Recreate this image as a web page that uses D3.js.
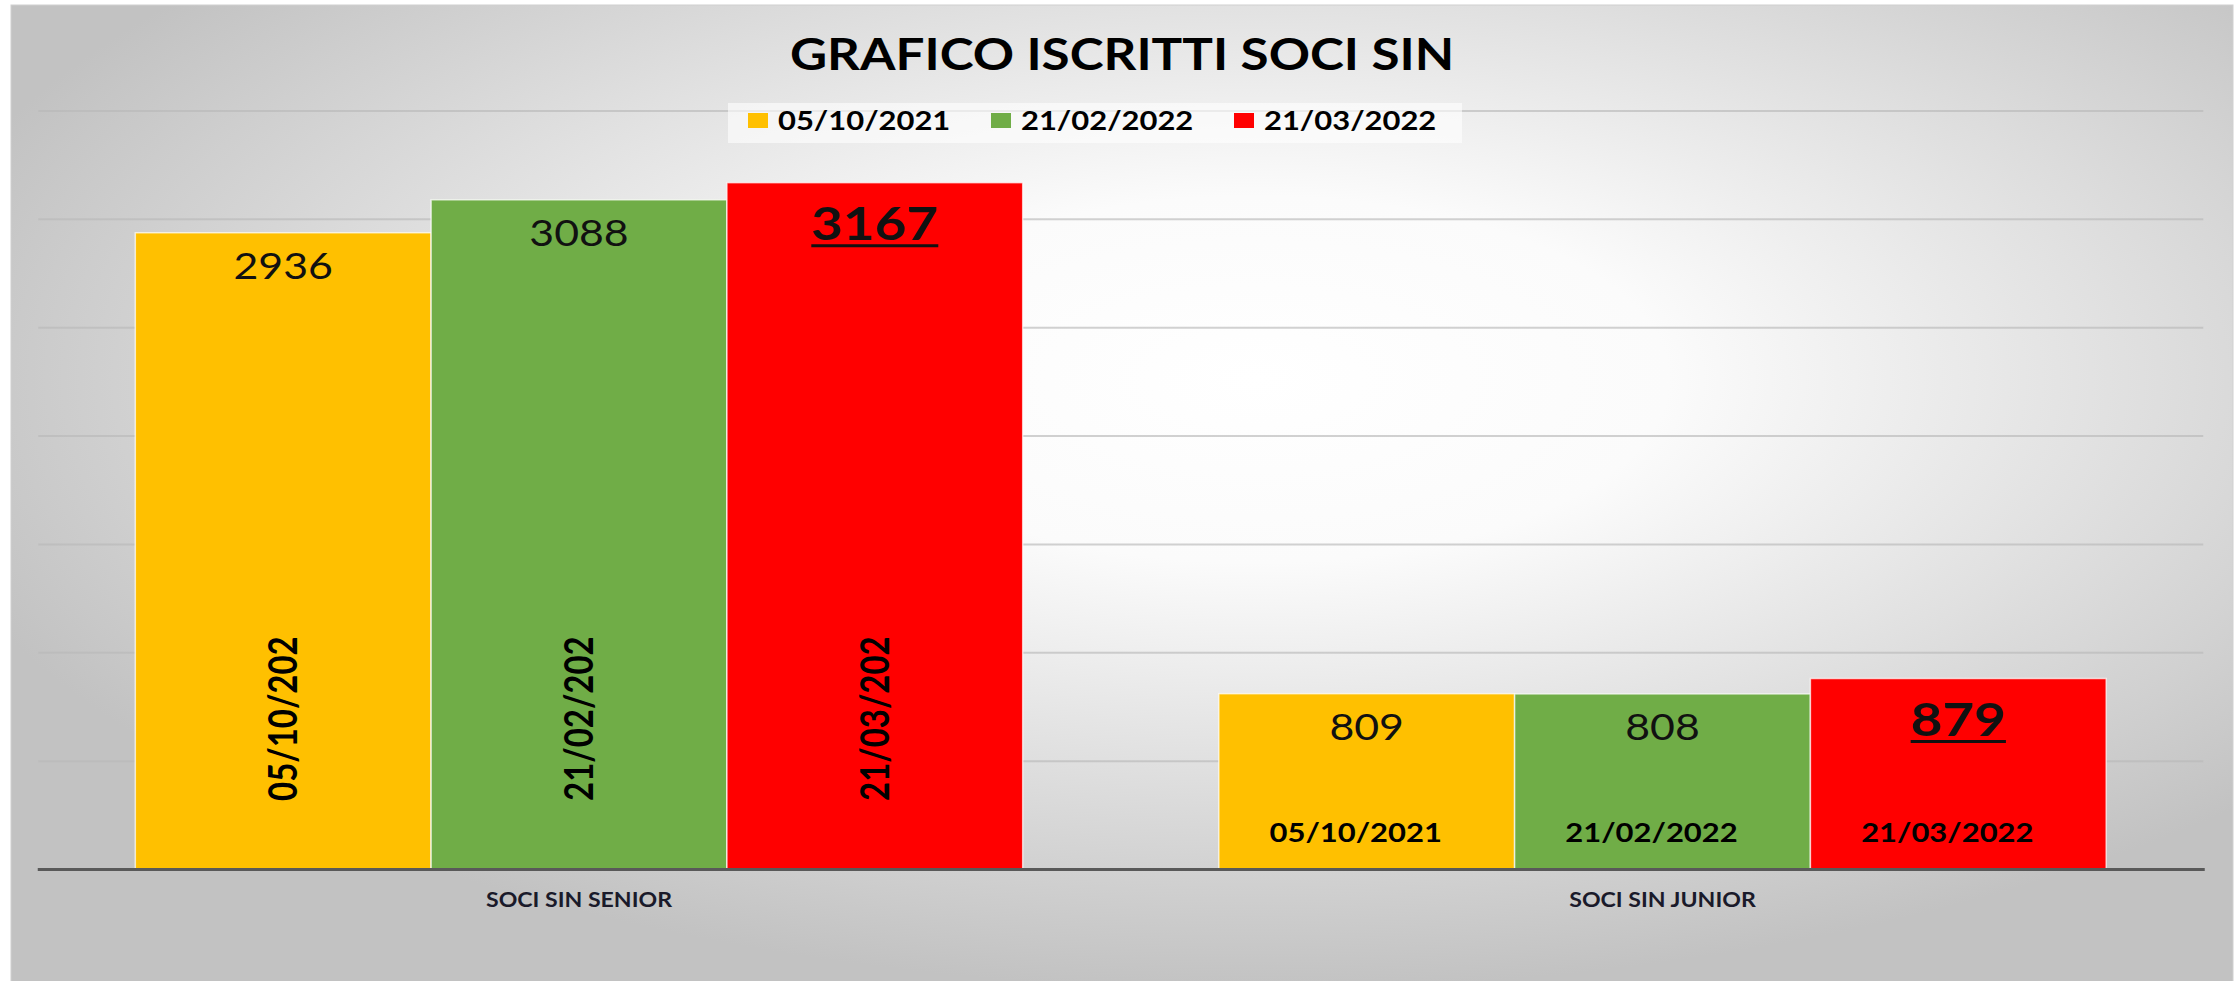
<!DOCTYPE html>
<html>
<head>
<meta charset="utf-8">
<script src="https://cdn.jsdelivr.net/npm/d3@7"></script>
<style>
  body { margin: 0; background: #fff; }
  svg { display: block; font-family: Lato, "Open Sans", sans-serif; }
</style>
</head>
<body>
<div id="chart"></div>
<script>
var categories = ["SOCI SIN SENIOR", "SOCI SIN JUNIOR"];
var seriesNames = ["05/10/2021", "21/02/2022", "21/03/2022"];
var iscritti_05_10_2021 = [2936, 809];
var iscritti_21_02_2022 = [3088, 808];
var iscritti_21_03_2022 = [3167, 879];
var yTicks = [500, 1000, 1500, 2000, 2500, 3000, 3500];

function init() {
    var w = 2237;
    var h = 981;
    var SX = 1.19; // the original picture is a bit stretched sideways
    var colors = ["#FFC000", "#70AD47", "#FF0000"];
    var seriesValues = [iscritti_05_10_2021, iscritti_21_02_2022, iscritti_21_03_2022];
    var x0 = 37.25, x1 = 2204.25, yBase = 869, yTop = 110.5;

    var svg = d3.select("#chart")
                .append("svg")
                .attr("width", w)
                .attr("height", h);

    var grad = svg.append("defs").append("radialGradient")
                  .attr("id", "bg")
                  .attr("cx", 0.56).attr("cy", 0.38).attr("r", 0.62);
    grad.append("stop").attr("offset", 0).attr("stop-color", "#ffffff");
    grad.append("stop").attr("offset", 0.3).attr("stop-color", "#fbfbfb");
    grad.append("stop").attr("offset", 1).attr("stop-color", "#c2c2c2");

    svg.append("rect")
       .attr("x", 11).attr("y", 5)
       .attr("width", 2222).attr("height", 985)
       .attr("fill", "url(#bg)")
       .attr("stroke", "#d0d0d0");

    var x = d3.scaleBand()
              .domain(categories)
              .range([x0, x1])
              .paddingInner(0.181)
              .paddingOuter(0.0905);
    var xs = d3.scaleBand()
               .domain(seriesNames)
               .range([0, x.bandwidth()]);
    var y = d3.scaleLinear()
              .domain([0, 3500])
              .range([yBase, yTop]);

    // gridlines
    var grid = svg.append("g")
                  .attr("transform", "translate(" + (x0 + 1) + ",0)")
                  .call(d3.axisLeft(y).tickValues(yTicks).tickSize(-(x1 - x0 - 2)).tickFormat(""));
    grid.select(".domain").remove();
    grid.selectAll("line").attr("stroke", "#b8b8b8").attr("stroke-opacity", 0.65).attr("stroke-width", 2);

    // title
    svg.append("text")
       .attr("transform", "translate(1122,70) scale(" + SX + ",1)")
       .attr("text-anchor", "middle")
       .attr("font-size", 43)
       .attr("font-weight", "bold")
       .attr("fill", "#000")
       .text("GRAFICO ISCRITTI SOCI SIN");

    // legend
    svg.append("rect")
       .attr("x", 728).attr("y", 103)
       .attr("width", 734).attr("height", 40)
       .attr("fill", "#fff").attr("fill-opacity", 0.6);
    var leg = svg.selectAll("g.leg")
                 .data(seriesNames)
                 .enter()
                 .append("g")
                 .attr("class", "leg")
                 .attr("transform", function(d, i) { return "translate(" + (748 + i * 243) + ",0)"; });
    leg.append("rect")
       .attr("x", 0).attr("y", 113)
       .attr("width", 20).attr("height", 15)
       .attr("fill", function(d, i) { return colors[i]; });
    leg.append("text")
       .attr("transform", "translate(30,130) scale(" + SX + ",1)")
       .attr("font-size", 26)
       .attr("font-weight", "bold")
       .text(function(d) { return d; });

    // bars
    var groups = svg.selectAll("g.cat")
                    .data(categories)
                    .enter()
                    .append("g")
                    .attr("class", "cat")
                    .attr("transform", function(d) { return "translate(" + x(d) + ",0)"; });

    var bars = groups.selectAll("g.bar")
                     .data(function(c, j) {
                         return seriesNames.map(function(s, i) {
                             return { cat: j, serie: i, name: s, value: seriesValues[i][j] };
                         });
                     })
                     .enter()
                     .append("g")
                     .attr("class", "bar");

    bars.append("rect")
        .attr("x", function(d) { return xs(d.name); })
        .attr("y", function(d) { return y(d.value); })
        .attr("width", xs.bandwidth())
        .attr("height", function(d) { return yBase - y(d.value); })
        .attr("fill", function(d) { return colors[d.serie]; })
        .attr("stroke", "#ffffff")
        .attr("stroke-opacity", 0.7)
        .attr("stroke-width", 1.5);

    // value labels, the last date is highlighted
    bars.append("text")
        .attr("class", "val")
        .attr("transform", function(d) {
            var cx = xs(d.name) + xs.bandwidth() / 2;
            var off = d.serie == 2 ? 57 : 46;
            return "translate(" + cx + "," + (y(d.value) + off) + ") scale(" + SX + ",1)";
        })
        .attr("text-anchor", "middle")
        .attr("font-size", function(d) { return d.serie == 2 ? 46 : 36; })
        .attr("font-weight", function(d) { return d.serie == 2 ? "bold" : "normal"; })
        .attr("fill", "#111")
        .text(function(d) { return d.value; });

    bars.filter(function(d) { return d.serie == 2; })
        .each(function(d) {
            var t = d3.select(this).select("text.val");
            var len = t.node().getComputedTextLength() * SX;
            var cx = xs(d.name) + xs.bandwidth() / 2;
            d3.select(this).append("line")
              .attr("x1", cx - len / 2).attr("x2", cx + len / 2)
              .attr("y1", y(d.value) + 63).attr("y2", y(d.value) + 63)
              .attr("stroke", "#111").attr("stroke-width", 3);
        });

    // series name at the base of each bar
    bars.append("text")
        .attr("transform", function(d) {
            var cx = xs(d.name) + xs.bandwidth() / 2;
            if (d.cat == 0) {
                return "translate(" + cx + ",801) scale(" + SX + ",1) rotate(-90)";
            }
            return "translate(" + (cx - 11) + ",842) scale(" + SX + ",1)";
        })
        .attr("text-anchor", function(d) { return d.cat == 0 ? "start" : "middle"; })
        .attr("dy", function(d) { return d.cat == 0 ? "0.35em" : 0; })
        .attr("font-size", function(d) { return d.cat == 0 ? 33 : 26; })
        .attr("font-weight", "bold")
        .attr("fill", "#000")
        .text(function(d) { return d.cat == 0 ? d.name.slice(0, 9) : d.name; });

    // category axis
    var xAxis = svg.append("g")
                   .attr("transform", "translate(0," + yBase + ")")
                   .call(d3.axisBottom(x).tickSize(0).tickSizeOuter(0).tickPadding(0));
    xAxis.select(".domain").attr("stroke", "#595959").attr("stroke-width", 3);
    xAxis.selectAll(".tick text")
         .attr("y", 0).attr("dy", 0)
         .attr("transform", "translate(0,38) scale(1.1,1)")
         .attr("font-size", 21)
         .attr("font-weight", "bold")
         .attr("font-family", "Lato, sans-serif")
         .attr("fill", "#1a1a2a");
}
window.onload = init;
</script>
</body>
</html>
